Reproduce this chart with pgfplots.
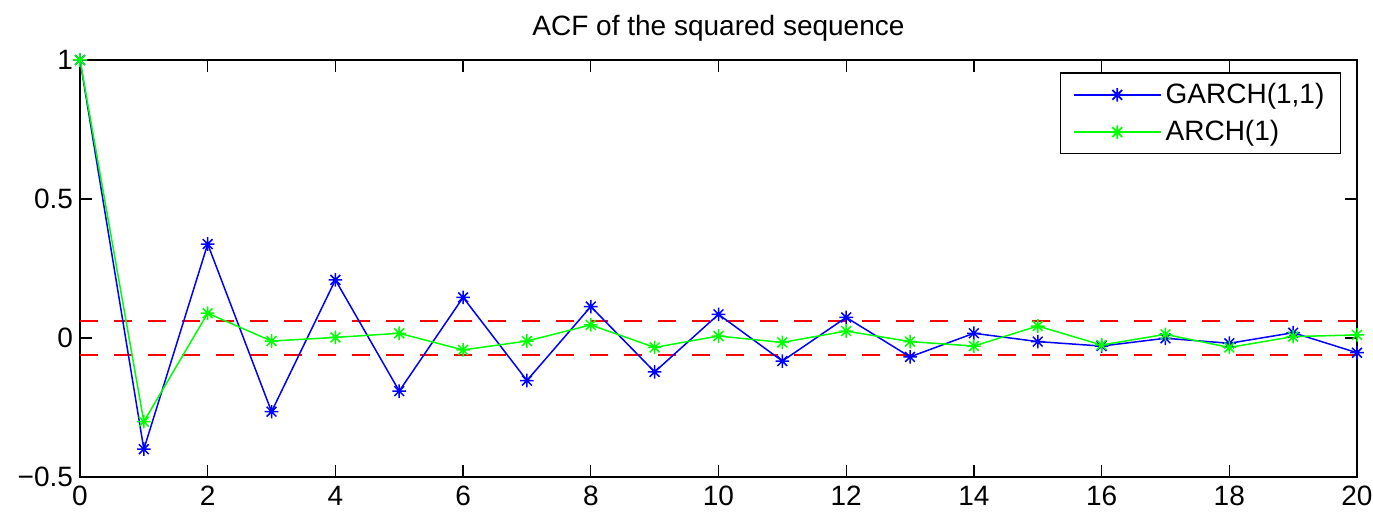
\documentclass[border=0pt]{standalone}
\usepackage{fontspec}
\setmainfont{Liberation Sans}
\usepackage{pgfplots}
\pgfplotsset{compat=1.18}
\pgfdeclareplotmark{ast8}{%
  \pgfpathmoveto{\pgfqpoint{-\pgfplotmarksize}{0pt}}\pgfpathlineto{\pgfqpoint{\pgfplotmarksize}{0pt}}%
  \pgfpathmoveto{\pgfqpoint{0pt}{-\pgfplotmarksize}}\pgfpathlineto{\pgfqpoint{0pt}{\pgfplotmarksize}}%
  \pgfpathmoveto{\pgfqpoint{-0.72\pgfplotmarksize}{-0.72\pgfplotmarksize}}\pgfpathlineto{\pgfqpoint{0.72\pgfplotmarksize}{0.72\pgfplotmarksize}}%
  \pgfpathmoveto{\pgfqpoint{-0.72\pgfplotmarksize}{0.72\pgfplotmarksize}}\pgfpathlineto{\pgfqpoint{0.72\pgfplotmarksize}{-0.72\pgfplotmarksize}}%
  \pgfusepathqstroke}
\definecolor{mblue}{rgb}{0,0,1}
\definecolor{mgreen}{rgb}{0,1,0}
\definecolor{mred}{rgb}{1,0,0}
\pgfplotstableread{
x garch arch
0 1.000 1.000
1 -0.400 -0.301
2 0.338 0.089
3 -0.265 -0.011
4 0.209 0.002
5 -0.191 0.017
6 0.146 -0.043
7 -0.153 -0.011
8 0.113 0.047
9 -0.122 -0.034
10 0.085 0.007
11 -0.083 -0.016
12 0.074 0.025
13 -0.068 -0.013
14 0.017 -0.029
15 -0.013 0.043
16 -0.029 -0.025
17 -0.001 0.013
18 -0.019 -0.034
19 0.019 0.005
20 -0.053 0.011
}\acf
\begin{document}
\begin{tikzpicture}
\useasboundingbox (-40pt,-20pt) rectangle (646.5pt,238.5pt);
\begin{axis}[
  at={(0,0)}, anchor=south west,
  scale only axis, width=638.5pt, height=208.5pt,
  xmin=0, xmax=20, ymin=-0.5, ymax=1,
  xtick={0,2,...,20}, ytick={-0.5,0,0.5,1},
  yticklabels={−0.5,0,0.5,1},
  tick align=inside, xtick pos=both, ytick pos=both,
  major tick length=6pt,
  tick style={black, line width=0.7pt},
  axis line style={black, line width=0.8pt},
  ticklabel style={font=\fontsize{14}{16}\selectfont},
  xticklabel style={yshift=-1pt},
  /pgf/number format/assume math mode=true,
  unbounded coords=jump,
  title={ACF of the squared sequence},
  title style={font=\fontsize{14}{16}\selectfont, yshift=0pt},
  legend style={at={(0.9875,0.97)}, anchor=north east, draw=black, line width=0.7pt,
    font=\fontsize{14}{16}\selectfont, row sep=3pt, inner xsep=6pt, inner ysep=3pt,
    cells={anchor=west}},
  legend image code/.code={%
    \draw[line width=0.9pt, mark repeat=2,mark phase=2] plot coordinates {(0cm,0cm) (0.765cm,0cm) (1.53cm,0cm)};},
]
\addplot[draw=mred, line width=0.9pt, dash pattern=on 9pt off 8pt, forget plot] coordinates {(0,0.062) (20,0.062) (10,nan) (0,-0.062) (20,-0.062)};
\addplot[mblue, line width=0.75pt, mark=ast8, mark size=3.4pt] table[x=x, y=garch] {\acf};
\addlegendentry{GARCH(1,1)}
\addplot[mgreen, line width=0.75pt, mark=ast8, mark size=3.4pt] table[x=x, y=arch] {\acf};
\addlegendentry{ARCH(1)}
\end{axis}
\end{tikzpicture}
\end{document}
